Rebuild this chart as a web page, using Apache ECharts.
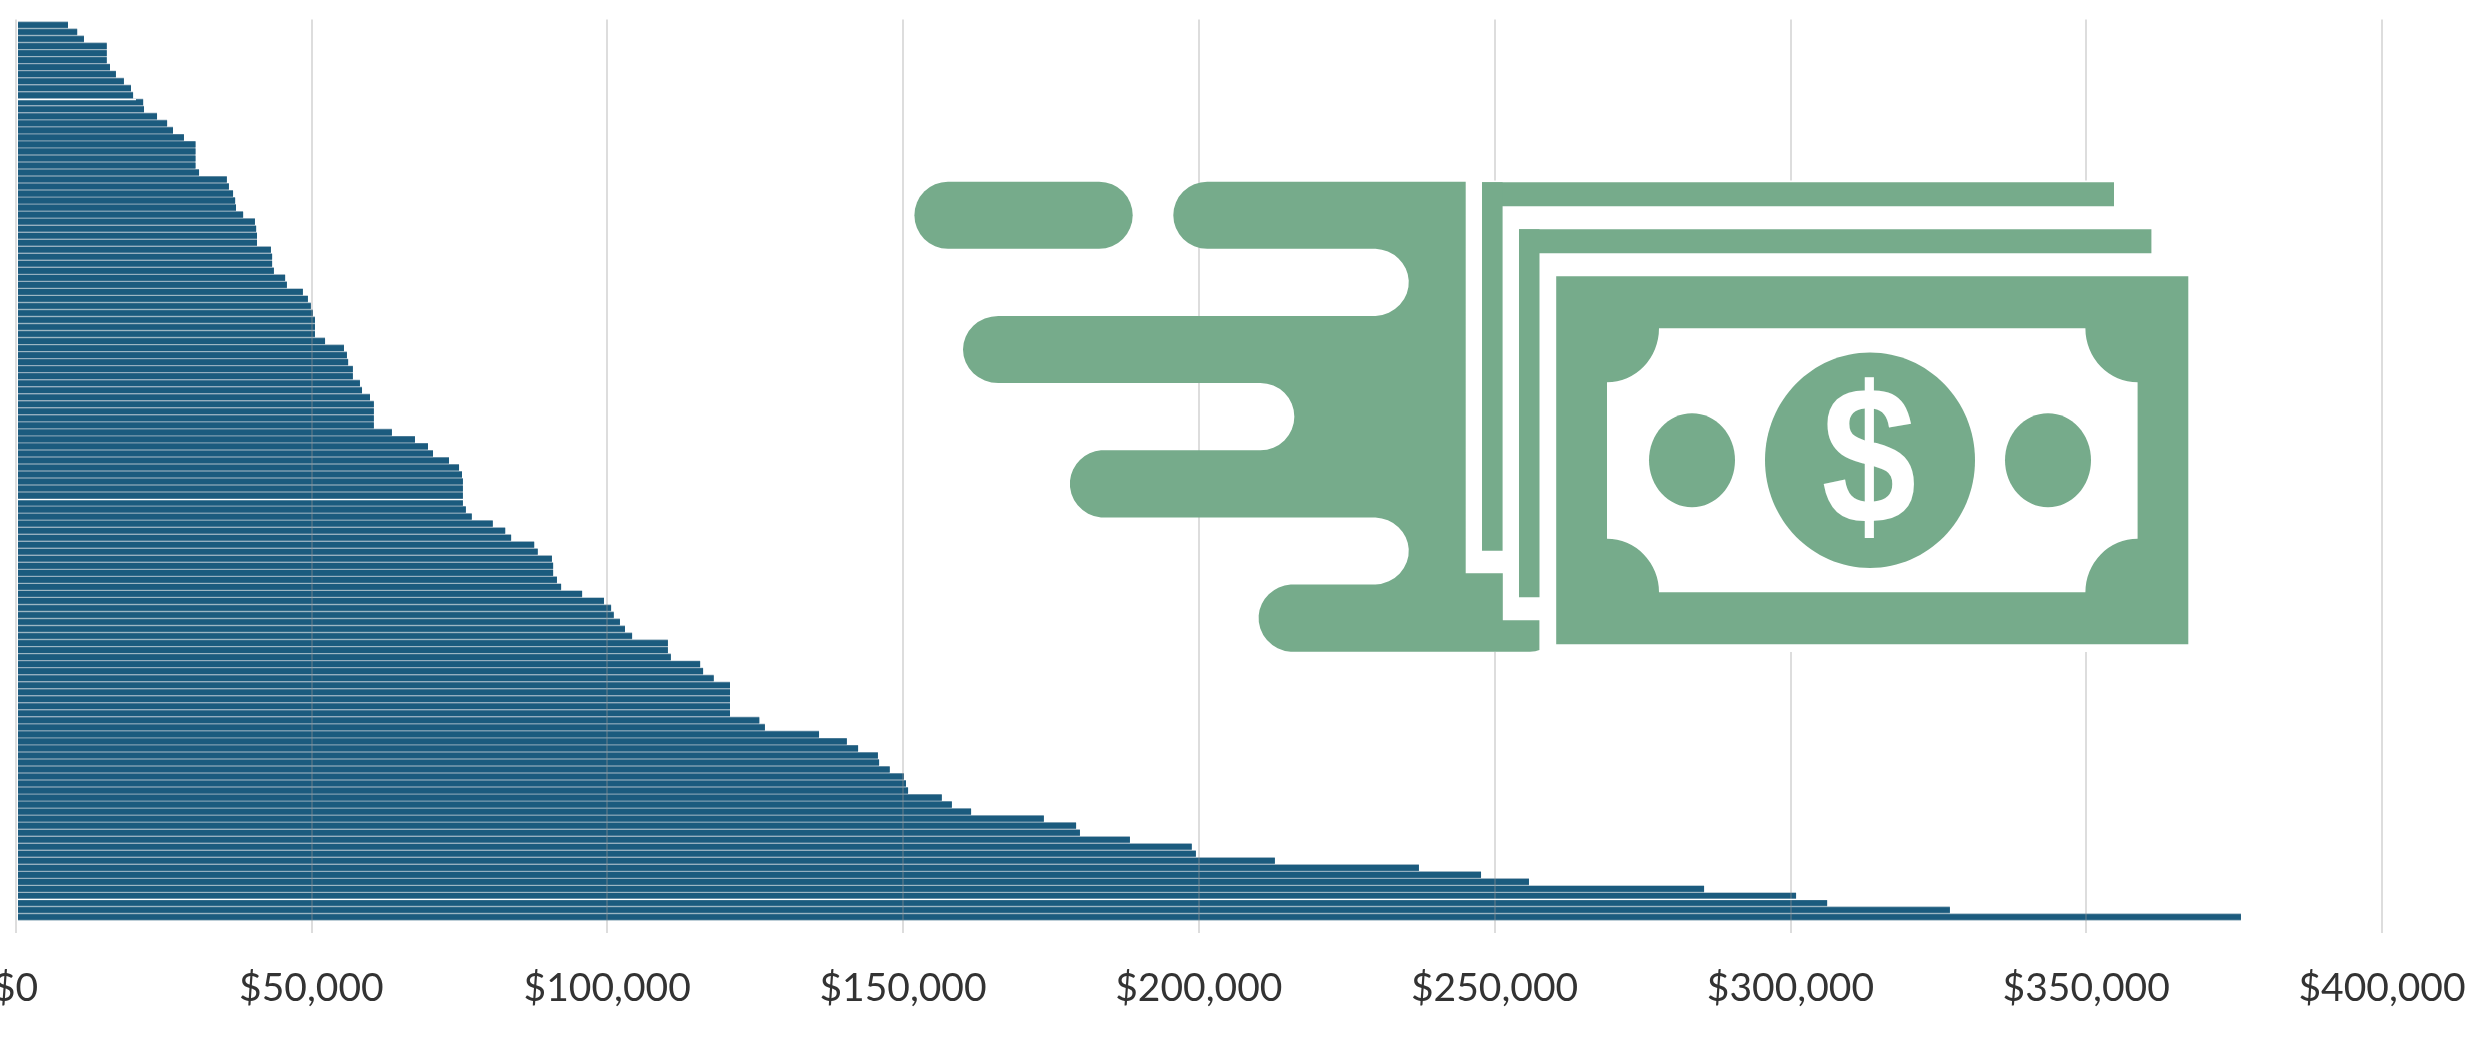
<!DOCTYPE html>
<html>
<head>
<meta charset="utf-8">
<style>html,body{margin:0;padding:0;background:#fff}#c{width:2492px;height:1037px}</style>
<script src="https://cdn.jsdelivr.net/npm/echarts@6/dist/echarts.min.js"></script>
</head>
<body>
<div id="c"></div>
<script>
const xTickValues = [0, 50000, 100000, 150000, 200000, 250000, 300000, 350000, 400000];
const xTickLabels = ['$0', '$50,000', '$100,000', '$150,000', '$200,000', '$250,000', '$300,000', '$350,000', '$400,000'];
const amountsTop = [
  8450, 10000, 11150, 15000, 15000, 15000, 15550, 16550, 17900, 19100, 19450,
  21150, 21300, 23500, 25200, 26200, 28050, 30000, 30000, 30000, 30000, 30600,
  35300, 35650, 36350, 36700, 36850, 38050, 40050, 40250, 40400, 40400
];
const amountsMiddle = [
  42750, 42950, 42950, 43250, 45150, 45450, 48150, 49000, 49500, 49850,
  50200, 50200, 50200, 51900, 55100, 55600, 55800, 56600, 56600, 57800, 58150, 59500,
  60150, 60150, 60150, 60150, 63200, 67100, 69300, 70150, 72850, 74550, 75050, 75200,
  75200, 75200, 75200
];
const amountsLower = [
  75700, 76700, 80250, 82350, 83350, 87250, 87850, 90250, 90450, 90450, 91100, 91800,
  95350, 99050, 100250, 100700, 101750, 102600, 103800, 109850, 109850, 110350,
  115300, 115800, 117600, 120350, 120350, 120350, 120350, 120350, 125300, 126250,
  135400
];
const amountsBottom = [
  140100, 142000, 145350, 145550, 147350, 149750, 150100, 150450, 156150, 157850, 161100,
  173400, 178850, 179500, 187950, 198400, 199100, 212450, 236800, 247300, 255400,
  285000, 300550, 305800, 326550, 375750
];
const amounts = [...amountsTop, ...amountsMiddle, ...amountsLower, ...amountsBottom];
const ranks = amounts.map((_, i) => String(i + 1));

const GREEN = '#76ab8b';
const DARK = '#1b5b7e';
const STRIPE = '#7d9db0';
const Z = 10;
const mainPath = 'M1207.2,181.7 L1465.7,181.7 L1465.7,573.3 L1502.8,573.3 L1502.8,620.3 L1539.4,620.3 L1539.4,650 Q1536,651.7 1530,651.7 ' +
  'L1290.7,651.7 A34.8,33.7 0 0 1 1290.7,584.5 L1375.5,584.5 A35.2,33.6 0 0 0 1375.5,517.4 L1101,517.4 A34.4,33.7 0 0 1 1101,450.3 ' +
  'L1260.4,450.3 A33.9,33.6 0 0 0 1260.4,383 L998.3,383 A35.3,33.5 0 0 1 998.3,316 L1375.5,316 A35.2,33.7 0 0 0 1375.5,248.7 ' +
  'L1207.2,248.7 A33.9,33.5 0 0 1 1207.2,181.7 Z';
const billInner = 'M1659,328.3 L2085.4,328.3 A52.2,54 0 0 0 2137.6,382.3 L2137.6,538.7 A52.2,53.6 0 0 0 2085.4,592.3 ' +
  'L1659,592.3 A52,53.6 0 0 0 1607,538.7 L1607,382.3 A52,54 0 0 0 1659,328.3 Z';
echarts.graphic.registerShape('speedShape', echarts.graphic.extendPath(mainPath, {}));
echarts.graphic.registerShape('billInner', echarts.graphic.extendPath(billInner, {}));

function r(x, y, w, h, fill) {
  return { type: 'rect', z: Z, silent: true, shape: { x, y, width: w, height: h }, style: { fill } };
}
function e(cx, cy, rx, ry, fill) {
  return { type: 'ellipse', z: Z, silent: true, shape: { cx, cy, rx, ry }, style: { fill } };
}
const icon = [
  r(1466, 180.5, 724, 471.5, '#ffffff'),
  { type: 'rect', z: Z, silent: true, shape: { x: 914.4, y: 181.7, width: 218.3, height: 67, r: 33.5 }, style: { fill: GREEN } },
  { type: 'speedShape', z: Z, silent: true, style: { fill: GREEN } },
  r(1482, 182.3, 632, 24, GREEN),
  r(1482, 182.3, 20.6, 368.4, GREEN),
  r(1519, 229.3, 632.4, 24, GREEN),
  r(1519, 229.3, 20.5, 368, GREEN),
  r(1556.2, 276.3, 632.1, 368, GREEN),
  { type: 'billInner', z: Z, silent: true, style: { fill: '#ffffff' } },
  e(1870, 460.3, 105, 107.7, GREEN),
  e(1692, 460.3, 43, 47, GREEN),
  e(2048, 460.3, 43, 47, GREEN),
  { type: 'text', z: Z, silent: true, x: 1869, y: 469, scaleX: 0.87,
    style: { text: '$', fill: '#ffffff', font: 'bold 196px "Liberation Sans"', textAlign: 'center', textVerticalAlign: 'middle' } },
  // thin white seams across the bars
  r(18, 99, 118, 1.2, '#ffffff'),
  r(18, 499, 446, 1.2, '#ffffff'),
  r(18, 898.8, 1810, 1.2, '#ffffff')
];

const chart = echarts.init(document.getElementById('c'), null, { renderer: 'canvas' });
chart.setOption({
  animation: false,
  backgroundColor: '#ffffff',
  grid: [
    { left: 18, top: 21.5, width: 2366.4, height: 899, outerBoundsMode: 'none' },
    { left: 15.6, top: 19.5, width: 2366.4, height: 913.5, outerBoundsMode: 'none' }
  ],
  xAxis: [
    { gridIndex: 0, type: 'value', min: 0, max: 400000, show: false },
    {
      gridIndex: 1, type: 'value', min: 0, max: 400000, interval: 50000, z: 5,
      axisLine: { show: false }, axisTick: { show: false },
      splitLine: { show: true, lineStyle: { color: 'rgba(150,150,150,0.38)', width: 1.7 } },
      axisLabel: {
        show: true, margin: 36, color: '#333333', fontFamily: 'Lato', fontSize: 39, hideOverlap: false,
        showMinLabel: true, showMaxLabel: true,
        formatter: v => xTickLabels[xTickValues.indexOf(v)]
      }
    }
  ],
  yAxis: [
    { gridIndex: 0, type: 'category', inverse: true, data: ranks, show: false },
    { gridIndex: 0, type: 'category', inverse: true, data: ranks, show: false },
    { gridIndex: 1, type: 'value', min: 0, max: 1, show: false, splitLine: { show: false } }
  ],
  series: [
    { name: 'Edge', type: 'bar', xAxisIndex: 0, yAxisIndex: 1, data: amounts, barWidth: '100%', z: 1,
      itemStyle: { color: STRIPE }, silent: true },
    { name: 'Amount', type: 'bar', xAxisIndex: 0, yAxisIndex: 0, data: amounts, barWidth: '80%', z: 2,
      itemStyle: { color: DARK }, silent: true }
  ],
  graphic: { elements: icon }
});
</script>
</body>
</html>
